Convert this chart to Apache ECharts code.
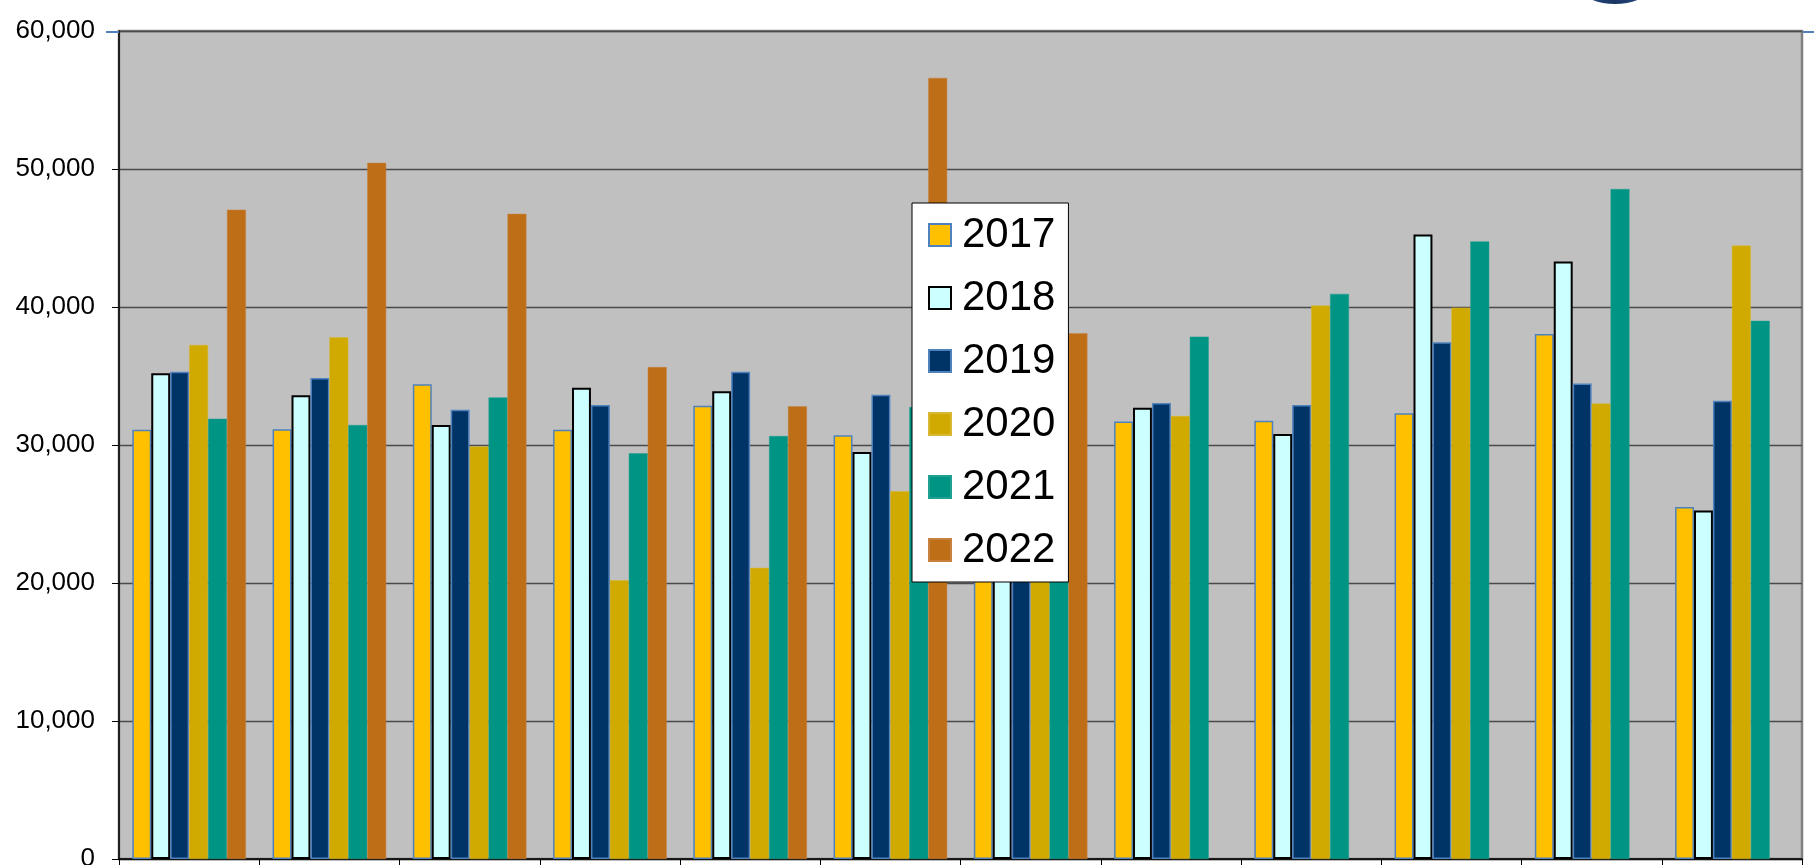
<!DOCTYPE html>
<html>
<head>
<meta charset="utf-8">
<script src="https://cdn.jsdelivr.net/npm/echarts@6/dist/echarts.min.js"></script>
<style>
html,body{margin:0;padding:0;background:#fff;}
#chart{width:1814px;height:865px;}
</style>
</head>
<body>
<div id="chart"></div>
<script>
const categories = ['Jan','Feb','Mar','Apr','May','Jun','Jul','Aug','Sep','Oct','Nov','Dec'];
const years = ['2017','2018','2019','2020','2021','2022'];
const s2017 = [31100,31150,34400,31100,32850,30700,33000,31700,31750,32300,38050,25500];
const s2018 = [35200,33600,31450,34150,33900,29500,32500,32700,30800,45250,43300,25250];
const s2019 = [35300,34850,32550,32900,35300,33650,34000,33050,32900,37450,34450,33200];
const s2020 = [37250,37800,29900,20200,21100,26650,30500,32100,40100,39950,33000,44450];
const s2021 = [31900,31450,33450,29400,30650,32750,36200,37850,40950,44750,48550,39000];
const s2022 = [47050,50450,46750,35650,32800,56600,38100,null,null,null,null,null];
const yTicks = [0,10000,20000,30000,40000,50000,60000];

const seriesData = [s2017,s2018,s2019,s2020,s2021,s2022];
const styles = [
  {color:'#FFC000', borderColor:'#4F81BD', borderWidth:1.5},
  {color:'#CCFFFF', borderColor:'#000000', borderWidth:2},
  {color:'#003366', borderColor:'#4F81BD', borderWidth:1.5},
  {color:'#D0AA00', borderColor:'#D8B830', borderWidth:0.5},
  {color:'#009484', borderColor:'#20A090', borderWidth:0.5},
  {color:'#BD6E17', borderColor:'#C88040', borderWidth:0.5}
];

const chart = echarts.init(document.getElementById('chart'), null, {renderer:'canvas'});
const option = {
  animation:false,
  backgroundColor:'#ffffff',
  textStyle:{fontFamily:'Liberation Sans, Arial, sans-serif'},
  grid:{
    left:119, top:31, right:12, bottom:6,
    show:true, backgroundColor:'#C0C0C0', borderColor:'#808080', borderWidth:2.5,
    containLabel:false,
    outerBoundsMode:'none'
  },
  legend:{
    orient:'vertical',
    left:912, top:203,
    backgroundColor:'#ffffff',
    borderColor:'#000000', borderWidth:1,
    padding:[10,13,10,16],
    itemGap:19,
    itemWidth:22, itemHeight:22,
    icon:'rect',
    textStyle:{fontSize:42, lineHeight:44, color:'#000', fontFamily:'Liberation Sans, Arial, sans-serif', padding:[0,0,0,6]},
    data:years
  },
  xAxis:{
    type:'category',
    data:categories,
    boundaryGap:true,
    axisLine:{show:true, lineStyle:{color:'#000', width:1.5}},
    axisTick:{show:true, alignWithLabel:false, length:6, lineStyle:{color:'#000'}},
    axisLabel:{show:false},
    splitLine:{show:false}
  },
  yAxis:{
    type:'value',
    min:yTicks[0], max:yTicks[yTicks.length-1], interval:10000,
    axisLine:{show:true, lineStyle:{color:'#000', width:1.5}},
    axisTick:{show:true, length:7, lineStyle:{color:'#000'}},
    axisLabel:{
      fontSize:26, color:'#000', margin:24,
      fontFamily:'Liberation Sans, Arial, sans-serif',
      formatter:function(v){return v.toLocaleString('en-US');}
    },
    splitLine:{show:true, lineStyle:{color:'#4a4a4a', width:1.3}}
  },
  series: years.map(function(y,i){
    return {
      name:y, type:'bar',
      data:seriesData[i],
      barGap:'0%', barCategoryGap:'19%',
      itemStyle:styles[i]
    };
  }),
  graphic:[
    {type:'line', shape:{x1:106,y1:32,x2:119,y2:32}, style:{stroke:'#4F81BD', lineWidth:2}, z:100},
    {type:'line', shape:{x1:1803,y1:32,x2:1814,y2:32}, style:{stroke:'#4F81BD', lineWidth:2}, z:100},
    {type:'ellipse', shape:{cx:1615, cy:-18, rx:39, ry:22},
     style:{fill:new echarts.graphic.LinearGradient(0,0,1,0,[{offset:0,color:'#2a4f86'},{offset:0.5,color:'#1a3766'},{offset:1,color:'#2a4f86'}])}, z:100}
  ]
};
chart.setOption(option);
</script>
</body>
</html>
